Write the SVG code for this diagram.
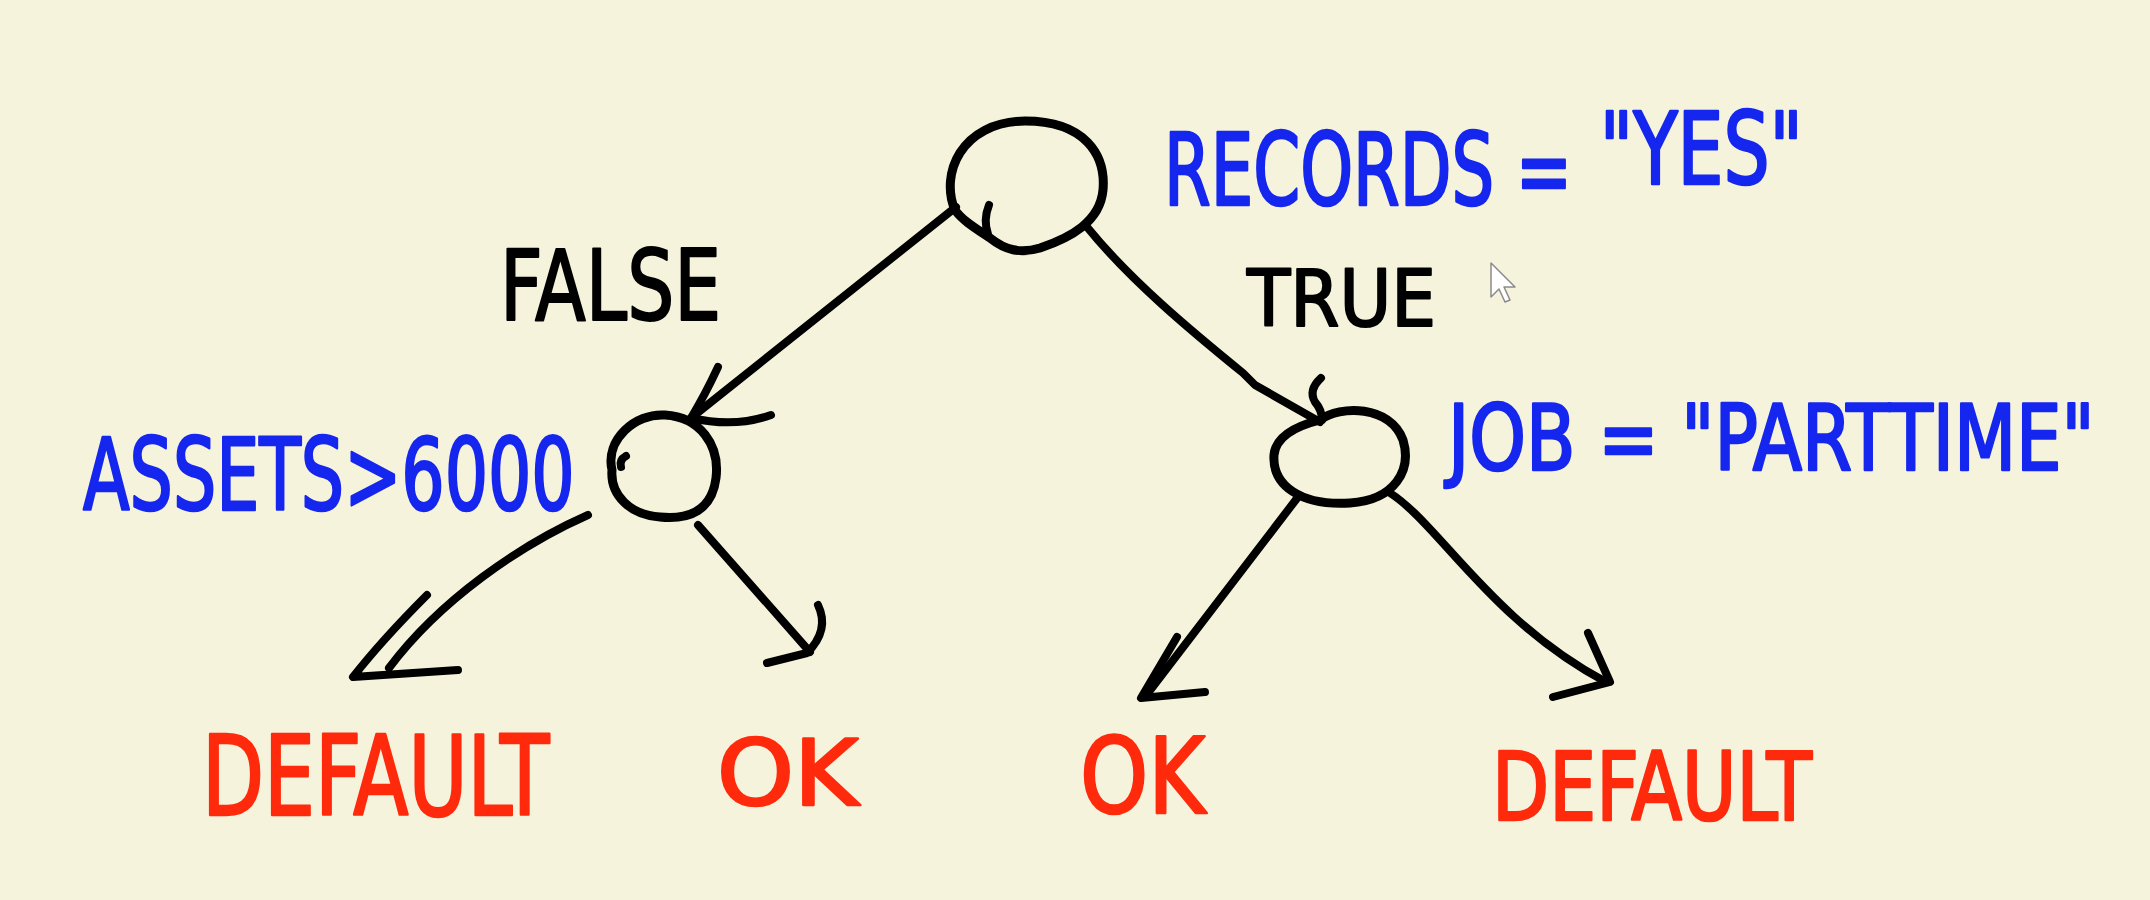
<svg xmlns="http://www.w3.org/2000/svg" width="2150" height="900" viewBox="0 0 2150 900">
<style>
.ink{fill:none;stroke:#000;stroke-width:8;stroke-linecap:round;stroke-linejoin:round}
.node{fill:none;stroke:#000;stroke-width:9;stroke-linecap:round;stroke-linejoin:round}
.t{font-family:"DejaVu Sans Condensed","DejaVu Sans","Liberation Sans",sans-serif;stroke-width:2.5;stroke-linejoin:round}
.blue{fill:#1526ee;stroke:#1526ee}
.red{fill:#ff2a0c;stroke:#ff2a0c}
.black{fill:#000;stroke:#000;stroke-width:2}
</style>
<rect width="2150" height="900" fill="#f6f3dd"/>

<g id="connectors">
  <path class="ink" d="M956 207 L691 418"/>
  <path class="ink" d="M718 367 Q705 395 691 418 Q735 428 771 415"/>
  <path class="ink" d="M1087 227 C1130 280 1190 330 1243 373 L1255 385 L1320 422"/>
  <path class="ink" d="M1321 378 Q1308 390 1315 402 Q1322 410 1322 420" stroke-width="6"/>
  <path class="ink" d="M588 515 C520 545 440 600 389 668"/>
  <path class="ink" d="M427 595 Q382 640 353 677 L458 670"/>
  <path class="ink" d="M698 525 L810 652"/>
  <path class="ink" d="M818 605 Q830 630 807 653 L767 663"/>
  <path class="ink" d="M1298 497 L1148 693"/>
  <path class="ink" d="M1177 637 L1141 698 L1205 692"/>
  <path class="ink" d="M1390 493 C1440 525 1490 620 1606 682"/>
  <path class="ink" d="M1588 633 L1610 682 L1553 697"/>
</g>

<g id="edge-labels">
  <text id="label-false" class="t black" transform="translate(500,320) scale(0.81,1)" x="0" y="0" font-size="98" textLength="273" lengthAdjust="spacingAndGlyphs">FALSE</text>
  <text id="label-true" class="t black" x="1247" y="326" font-size="79" textLength="189" lengthAdjust="spacingAndGlyphs">TRUE</text>
</g>

<g id="node-root">
  <path class="node" d="M955 210 C940 175 960 122 1025 121 C1085 121 1106 155 1103 190 C1100 222 1070 238 1040 248 C1020 254 1005 250 990 238 C975 228 962 220 955 210 Z"/>
  <path class="ink" d="M989 205 Q983 220 988 234" stroke-width="6"/>
  <text class="t blue" font-size="100" transform="translate(1164,0) scale(0.75,1)"><tspan x="0" y="205" textLength="544" lengthAdjust="spacingAndGlyphs">RECORDS =</tspan><tspan x="581" y="184" textLength="271" lengthAdjust="spacingAndGlyphs">"YES"</tspan></text>
</g>

<g id="node-assets">
  <path class="node" d="M612 470 C605 440 635 413 665 415 C700 417 720 445 716 478 C712 510 690 520 660 517 C630 515 610 495 612 470 Z"/>
  <path class="ink" d="M626 456 Q619 460 621 467" stroke-width="5"/>
  <text class="t blue" transform="translate(83,510) scale(0.76,1)" x="0" y="0" font-size="100" textLength="647" lengthAdjust="spacingAndGlyphs">ASSETS&gt;6000</text>
</g>

<g id="node-job">
  <path class="node" d="M1320 420 C1340 405 1390 405 1403 440 C1412 470 1395 500 1350 503 C1300 506 1272 485 1274 455 C1276 435 1300 425 1320 420 Z"/>
  <text class="t blue" transform="translate(1448,470) scale(0.86,1)" x="0" y="0" font-size="90" textLength="752" lengthAdjust="spacingAndGlyphs">JOB = "PARTTIME"</text>
</g>

<g id="leaf-default-1">
  <text class="t red" transform="translate(202,815) scale(0.77,1)" x="0" y="0" font-size="110" textLength="451" lengthAdjust="spacingAndGlyphs">DEFAULT</text>
</g>
<g id="leaf-ok-1">
  <text class="t red" x="717" y="805" font-size="90" textLength="141" lengthAdjust="spacingAndGlyphs">OK</text>
</g>
<g id="leaf-ok-2">
  <text class="t red" transform="translate(1080,813) scale(0.9,1)" x="0" y="0" font-size="106" textLength="139" lengthAdjust="spacingAndGlyphs">OK</text>
</g>
<g id="leaf-default-2">
  <text class="t red" transform="translate(1492,820) scale(0.82,1)" x="0" y="0" font-size="95" textLength="390" lengthAdjust="spacingAndGlyphs">DEFAULT</text>
</g>

<g id="cursor">
  <path d="M1491 263 L1491 297 L1499 289 L1505 302 L1510 300 L1504 287 L1515 287 Z" fill="#ffffff" stroke="#8a8a8a" stroke-width="1.5" stroke-linejoin="round"/>
</g>
</svg>
